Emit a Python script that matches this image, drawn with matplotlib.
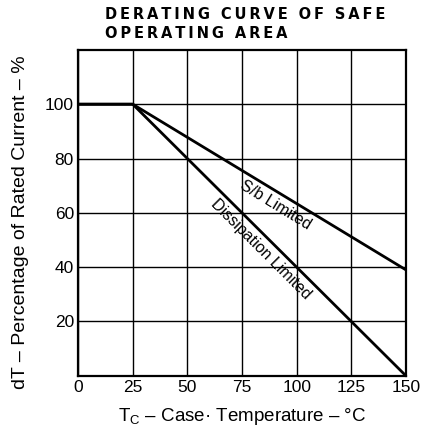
import matplotlib
matplotlib.use("Agg")
import matplotlib.pyplot as plt

plt.rcParams['font.family'] = ['Liberation Sans', 'DejaVu Sans']
plt.rcParams['mathtext.fontset'] = 'custom'
plt.rcParams['mathtext.rm'] = 'Liberation Sans'

# derating curves (case temperature in C, % of rated current)
sb_temp = [0, 25, 150]
sb_pct = [100, 100, 39]
diss_temp = [0, 25, 150]
diss_pct = [100, 100, 0]

x_ticks = [0, 25, 50, 75, 100, 125, 150]
y_ticks = [20, 40, 60, 80, 100]
y_labels = ['20', '40', '60', '80', '100']

fig = plt.figure(figsize=(4.22, 4.30), dpi=100)
ax = fig.add_axes([0.185, 0.126, 0.777, 0.758])

ax.plot(sb_temp, sb_pct, color='black', lw=2)
ax.plot(diss_temp, diss_pct, color='black', lw=2)

ax.set_xlim(0, 150)
ax.set_ylim(0, 120)
ax.set_xticks(x_ticks)
ax.set_yticks(y_ticks)
ax.set_yticklabels(y_labels)
ax.grid(True, color='black', lw=1)
ax.tick_params(length=0, labelsize=12.5, pad=3)
for s in ax.spines.values():
    s.set_linewidth(1.6)

# curve labels
ax.text(90.5, 63.0, 'S/b Limited', rotation=-31.5, ha='center', va='center', fontsize=11.5)
ax.text(83.5, 46.5, 'Dissipation Limited', rotation=-45, ha='center', va='center', fontsize=11.5)

ax.set_xlabel('T$_\\mathrm{C}$ – Case· Temperature – °C', fontsize=13.5, labelpad=8)
ax.set_ylabel('dT – Percentage of Rated Current – %', fontsize=14)
ax.yaxis.set_label_coords(-0.15, 0.47)

fig.text(0.249, 0.955, '\u2009'.join('DERATING CURVE OF SAFE'), ha='left', va='baseline',
         fontsize=10.5, fontweight='bold', family='DejaVu Sans')
fig.text(0.249, 0.911, '\u2009'.join('OPERATING AREA'), ha='left', va='baseline',
         fontsize=10.5, fontweight='bold', family='DejaVu Sans')

fig.savefig('out.png', dpi=100)
